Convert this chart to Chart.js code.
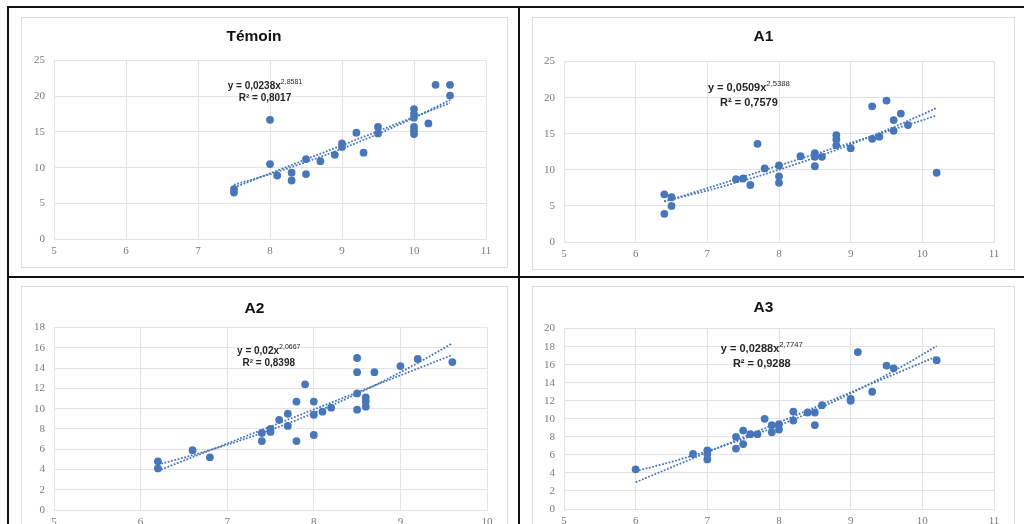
<!DOCTYPE html>
<html>
<head>
<meta charset="utf-8">
<script src="https://cdn.jsdelivr.net/npm/chart.js@4.4.1/dist/chart.umd.min.js"></script>
<style>
html, body { margin: 0; padding: 0; background: #fff; }
#page { position: relative; width: 1024px; height: 524px; overflow: hidden; background: #fff; }
.rule { position: absolute; background: #111; }
.box { position: absolute; border: 1px solid #dcdcdc; background: #fff; box-sizing: border-box; }
</style>
</head>
<body>
<div id="page">
  <div class="box" style="left:21px;top:17px;width:487px;height:251px"><canvas id="c0"></canvas></div>
  <div class="box" style="left:532px;top:17px;width:483px;height:253px"><canvas id="c1"></canvas></div>
  <div class="box" style="left:21px;top:286px;width:487px;height:251px"><canvas id="c2"></canvas></div>
  <div class="box" style="left:532px;top:286px;width:483px;height:251px"><canvas id="c3"></canvas></div>

  <div class="rule" style="left:7px;top:6px;width:1017px;height:2px"></div>
  <div class="rule" style="left:7px;top:6px;width:2px;height:518px"></div>
  <div class="rule" style="left:518px;top:6px;width:2px;height:518px"></div>
  <div class="rule" style="left:7px;top:276px;width:1017px;height:2px"></div>
</div>

<script>
// Témoin
const temoinX = [7.5, 7.5, 8, 8, 8.1, 8.3, 8.3, 8.5, 8.5, 8.7, 8.9, 9, 9, 9.2, 9.3, 9.5, 9.5, 10, 10, 10, 10, 10, 10, 10.2, 10.3, 10.5, 10.5];
const temoinY = [7.0, 6.5, 16.7, 10.5, 8.9, 9.3, 8.2, 11.2, 9.1, 10.9, 11.8, 13.4, 12.9, 14.9, 12.1, 15.7, 14.8, 18.2, 17.5, 17.0, 15.7, 15.2, 14.7, 16.2, 21.6, 21.6, 20.1];
// A1
const a1X = [6.4, 6.4, 6.5, 6.5, 7.4, 7.5, 7.6, 7.7, 7.8, 8, 8, 8, 8.3, 8.5, 8.5, 8.5, 8.6, 8.8, 8.8, 8.8, 9, 9.3, 9.3, 9.4, 9.5, 9.6, 9.6, 9.7, 9.8, 10.2];
const a1Y = [6.6, 3.9, 6.2, 5.0, 8.7, 8.8, 7.9, 13.6, 10.2, 10.6, 9.1, 8.2, 11.9, 12.3, 11.8, 10.5, 11.8, 14.8, 14.2, 13.4, 13.0, 18.8, 14.3, 14.6, 19.6, 16.9, 15.4, 17.8, 16.2, 9.6];
// A2
const a2X = [6.2, 6.2, 6.6, 6.8, 7.4, 7.4, 7.5, 7.5, 7.6, 7.7, 7.7, 7.8, 7.8, 7.9, 8, 8, 8, 8.1, 8.2, 8.5, 8.5, 8.5, 8.5, 8.6, 8.6, 8.6, 8.7, 9, 9.2, 9.6];
const a2Y = [4.8, 4.1, 5.9, 5.2, 7.6, 6.8, 8.0, 7.7, 8.9, 9.5, 8.3, 10.7, 6.8, 12.4, 10.7, 9.4, 7.4, 9.7, 10.1, 15.0, 13.6, 11.5, 9.9, 11.1, 10.7, 10.2, 13.6, 14.2, 14.9, 14.6];
// A3
const a3X = [6, 6.8, 7, 7, 7, 7.4, 7.4, 7.5, 7.5, 7.6, 7.7, 7.8, 7.9, 7.9, 8, 8, 8.2, 8.2, 8.4, 8.5, 8.5, 8.6, 9, 9, 9.1, 9.3, 9.5, 9.6, 10.2];
const a3Y = [4.4, 6.1, 6.5, 6.1, 5.5, 8.0, 6.7, 8.7, 7.2, 8.3, 8.3, 10.0, 9.3, 8.5, 9.4, 8.8, 10.8, 9.8, 10.7, 10.7, 9.3, 11.5, 12.2, 12.0, 17.4, 13.0, 15.9, 15.6, 16.5];

const titles = ['Témoin', 'A1', 'A2', 'A3'];
// [min, max, step]
const xRanges = [[5, 11, 1], [5, 11, 1], [5, 10, 1], [5, 11, 1]];
const yRanges = [[0, 25, 5], [0, 25, 5], [0, 18, 2], [0, 20, 2]];
// equation labels: coefficient, exponent, R²
const eqCoef = ['0,0238', '0,0509', '0,02', '0,0288'];
const eqExp = ['2,8581', '2,5388', '2,0667', '2,7747'];
const eqR2 = ['0,8017', '0,7579', '0,8398', '0,9288'];
const eqAt = [[7.93, 21.4], [7.58, 21.4], [7.48, 15.7], [7.76, 17.7]];

const BLUE = '#4677bd';

// Excel-style trendlines fitted to the points
function fitLinear(xs, ys) {
  const n = xs.length;
  let sx = 0, sy = 0, sxx = 0, sxy = 0;
  for (let i = 0; i < n; i++) { sx += xs[i]; sy += ys[i]; sxx += xs[i] * xs[i]; sxy += xs[i] * ys[i]; }
  const m = (n * sxy - sx * sy) / (n * sxx - sx * sx);
  return { m: m, c: (sy - m * sx) / n };
}
function fitPower(xs, ys) {
  const f = fitLinear(xs.map(Math.log), ys.map(Math.log));
  return { a: Math.exp(f.c), b: f.m };
}
function trendlines(xs, ys) {
  const lo = Math.min(...xs), hi = Math.max(...xs);
  const lin = fitLinear(xs, ys), pw = fitPower(xs, ys);
  const power = [];
  for (let i = 0; i <= 40; i++) {
    const x = lo + (hi - lo) * i / 40;
    power.push({ x: x, y: pw.a * Math.pow(x, pw.b) });
  }
  const linear = [{ x: lo, y: lin.m * lo + lin.c }, { x: hi, y: lin.m * hi + lin.c }];
  return [power, linear];
}

const eqLabel = {
  id: 'eqLabel',
  afterDatasetsDraw(chart, args, opts) {
    const ctx = chart.ctx;
    const cx = chart.scales.x.getPixelForValue(opts.at[0]);
    const cy = chart.scales.y.getPixelForValue(opts.at[1]);
    const fam = '"Liberation Sans", Arial, sans-serif';
    const main = 'y = ' + opts.coef + 'x';
    ctx.save();
    ctx.fillStyle = '#262626';
    ctx.textBaseline = 'middle';
    ctx.font = 'bold ' + opts.size + 'px ' + fam;
    const w1 = ctx.measureText(main).width;
    ctx.font = (opts.size * 0.7) + 'px ' + fam;
    const w2 = ctx.measureText(opts.exp).width;
    let x0 = cx - (w1 + w2) / 2;
    ctx.textAlign = 'left';
    ctx.font = 'bold ' + opts.size + 'px ' + fam;
    ctx.fillText(main, x0, cy);
    ctx.font = (opts.size * 0.7) + 'px ' + fam;
    ctx.fillText(opts.exp, x0 + w1, cy - opts.size * 0.38);
    ctx.font = 'bold ' + opts.size + 'px ' + fam;
    ctx.textAlign = 'center';
    ctx.fillText('R² = ' + opts.r2, cx, cy + opts.gap);
    ctx.restore();
  }
};

function makeChart(i, xs, ys, lay) {
  const pts = xs.map((x, k) => ({ x: x, y: ys[k] }));
  const tl = trendlines(xs, ys);
  const tick = { color: '#7a7a7a', font: { family: '"Liberation Serif", "Times New Roman", serif', size: 11 } };
  new Chart(document.getElementById('c' + i), {
    type: 'scatter',
    data: {
      datasets: [
        { data: tl[0], showLine: true, pointRadius: 0, borderColor: BLUE, borderWidth: 1.8, borderDash: [1.8, 1.6], order: 0 },
        { data: tl[1], showLine: true, pointRadius: 0, borderColor: BLUE, borderWidth: 1.8, borderDash: [1.8, 1.6], order: 0 },
        { data: pts, pointRadius: 3.9, pointBackgroundColor: BLUE, pointBorderWidth: 0, order: 1 }
      ]
    },
    options: {
      responsive: true,
      maintainAspectRatio: false,
      animation: false,
      layout: { padding: { left: 0, right: lay.padR, top: 0, bottom: 0 } },
      plugins: {
        legend: { display: false },
        tooltip: { enabled: false },
        title: {
          display: true,
          text: titles[i],
          color: '#111',
          font: { family: '"Liberation Sans", Arial, sans-serif', size: 15.5, weight: 'bold', lineHeight: 1.2 },
          padding: { top: lay.tTop, bottom: lay.tBot }
        },
        eqLabel: { at: eqAt[i], coef: eqCoef[i], exp: eqExp[i], r2: eqR2[i], size: lay.eqSize, gap: lay.eqGap }
      },
      scales: {
        x: {
          type: 'linear',
          min: xRanges[i][0], max: xRanges[i][1],
          ticks: Object.assign({ stepSize: xRanges[i][2], padding: 6 }, tick),
          grid: { color: '#e3e3e3', drawTicks: false },
          border: { color: '#e3e3e3' },
          afterFit(s) { s.height = lay.xH; }
        },
        y: {
          type: 'linear',
          min: yRanges[i][0], max: yRanges[i][1],
          ticks: Object.assign({ stepSize: yRanges[i][2], padding: 9 }, tick),
          grid: { color: '#e3e3e3', drawTicks: false },
          border: { color: '#e3e3e3' },
          afterFit(s) { s.width = lay.yW; }
        }
      }
    },
    plugins: [eqLabel]
  });
}

makeChart(0, temoinX, temoinY, { yW: 32, padR: 21, tTop: 9, tBot: 15, xH: 28, eqSize: 10, eqGap: 12 });
makeChart(1, a1X, a1Y, { yW: 31, padR: 20, tTop: 9, tBot: 16, xH: 27, eqSize: 11, eqGap: 15 });
makeChart(2, a2X, a2Y, { yW: 32, padR: 20, tTop: 12, tBot: 10, xH: 26, eqSize: 10, eqGap: 12 });
makeChart(3, a3X, a3Y, { yW: 31, padR: 20, tTop: 11, tBot: 12, xH: 27, eqSize: 11, eqGap: 15 });
</script>
</body>
</html>
